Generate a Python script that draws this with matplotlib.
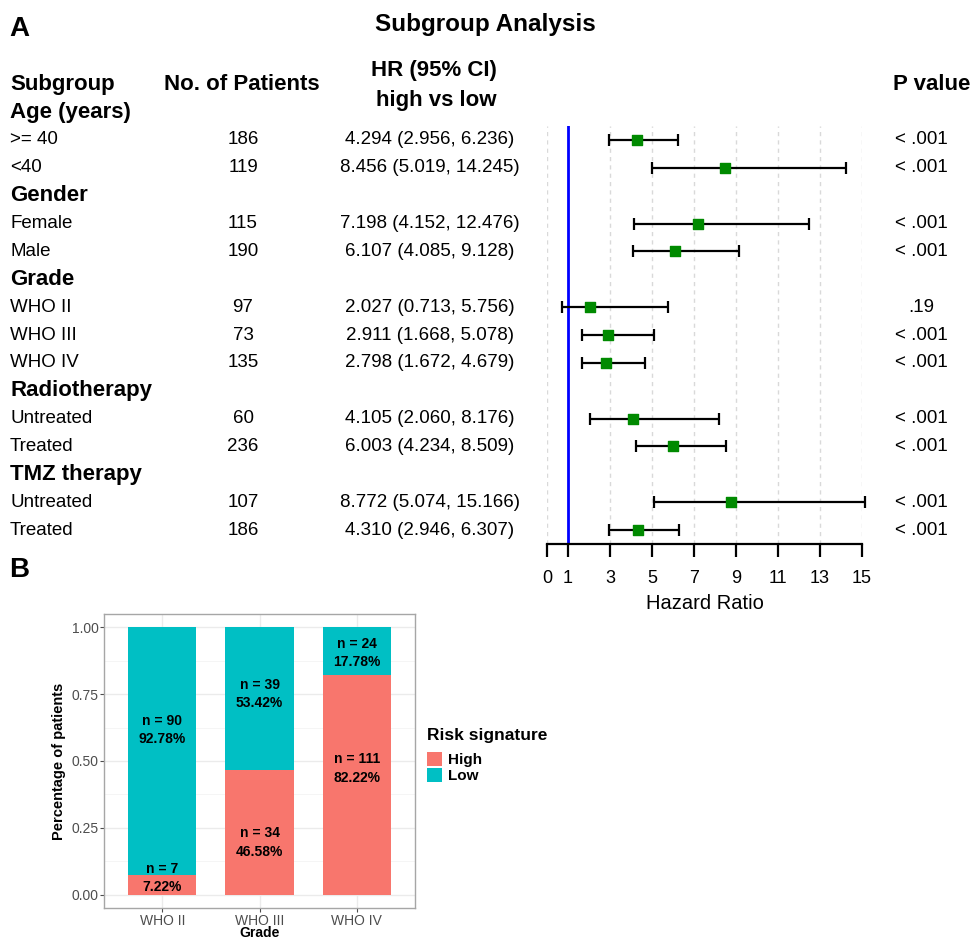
import matplotlib
matplotlib.use('Agg')
import matplotlib.pyplot as plt
import matplotlib.transforms as mtransforms
from matplotlib.patches import Patch

plt.rcParams['font.family'] = ['Liberation Sans', 'DejaVu Sans']

# subgroup hazard ratios (high vs low risk)
GROUPS = ['Age (years)', 'Gender', 'Grade', 'Radiotherapy', 'TMZ therapy']
SUBGROUPS = [['>= 40', '<40'],
             ['Female', 'Male'],
             ['WHO II', 'WHO III', 'WHO IV'],
             ['Untreated', 'Treated'],
             ['Untreated', 'Treated']]
PATIENTS = [186, 119, 115, 190, 97, 73, 135, 60, 236, 107, 186]
HR = [4.294, 8.456, 7.198, 6.107, 2.027, 2.911, 2.798, 4.105, 6.003, 8.772, 4.310]
CI_LOW = [2.956, 5.019, 4.152, 4.085, 0.713, 1.668, 1.672, 2.060, 4.234, 5.074, 2.946]
CI_HIGH = [6.236, 14.245, 12.476, 9.128, 5.756, 5.078, 4.679, 8.176, 8.509, 15.166, 6.307]
P_VALUES = ['< .001', '< .001', '< .001', '< .001', '.19', '< .001', '< .001',
            '< .001', '< .001', '< .001', '< .001']
HR_TICKS = [0, 1, 3, 5, 7, 9, 11, 13, 15]

# risk signature by WHO grade
GRADES = ['WHO II', 'WHO III', 'WHO IV']
N_HIGH = [7, 34, 111]
N_LOW = [90, 39, 24]

HIGH_COL = '#F8766D'
LOW_COL = '#00BFC4'

W, H = 971, 941
fig = plt.figure(figsize=(W / 100, H / 100), dpi=100)

def fx(px):
    return px / W

def fy(px):
    return 1 - px / H

# ---------------- panel A: forest plot ----------------
ax = fig.add_axes([fx(547), fy(544), fx(862) - fx(547), (544 - 126) / H])
ax.set_xlim(0, 15)
ax.set_ylim(15.5, 0.5)

# assign each line of the table a row index
header_rows, sub_rows, sub_labels = [], [], []
r = 0
for g, subs in zip(GROUPS, SUBGROUPS):
    header_rows.append(r)
    r += 1
    for s in subs:
        sub_rows.append(r)
        sub_labels.append(s)
        r += 1

for x in HR_TICKS:
    if x != 1:
        ax.axvline(x, color='#d9d9d9', lw=1, ls=(0, (3, 3)), zorder=0)
ax.axvline(1, color='#0000ff', lw=2, zorder=1)

err_lo = [h - l for h, l in zip(HR, CI_LOW)]
err_hi = [u - h for h, u in zip(HR, CI_HIGH)]
eb = ax.errorbar(HR, sub_rows, xerr=[err_lo, err_hi], fmt='none', ecolor='black',
                 elinewidth=1.6, capsize=4, capthick=1.6, zorder=2)
for art in eb.lines[1] + eb.lines[2]:
    art.set_clip_on(False)
ax.scatter(HR, sub_rows, marker='s', s=60, color='#008a00', zorder=3, clip_on=False)

for sp in ['top', 'right', 'left']:
    ax.spines[sp].set_visible(False)
ax.spines['bottom'].set_linewidth(1.6)
ax.set_yticks([])
ax.set_xticks(HR_TICKS)
ax.tick_params(axis='x', length=9, width=1.6, labelsize=13, pad=10)
ax.set_xlabel('Hazard Ratio', fontsize=14.5, labelpad=5)

tr = mtransforms.blended_transform_factory(fig.transFigure, ax.transData)
row_fs = 13.5
head_fs = 16
for g, hr_ in zip(GROUPS, header_rows):
    ax.text(fx(10), hr_, g, transform=tr, fontsize=head_fs, fontweight='bold',
            ha='left', va='center', clip_on=False)
for i, rr in enumerate(sub_rows):
    ax.text(fx(10), rr, sub_labels[i], transform=tr, fontsize=row_fs,
            ha='left', va='center', clip_on=False)
    ax.text(fx(243), rr, str(PATIENTS[i]), transform=tr, fontsize=row_fs,
            ha='center', va='center', clip_on=False)
    ax.text(fx(430), rr, f'{HR[i]:.3f} ({CI_LOW[i]:.3f}, {CI_HIGH[i]:.3f})',
            transform=tr, fontsize=row_fs, ha='center', va='center', clip_on=False)
    ax.text(fx(921), rr, P_VALUES[i], transform=tr, fontsize=row_fs,
            ha='center', va='center', clip_on=False)

# column headers
ax.text(fx(10), -1, 'Subgroup', transform=tr, fontsize=head_fs, fontweight='bold',
        ha='left', va='center', clip_on=False)
ax.text(fx(242), -1, 'No. of Patients', transform=tr, fontsize=head_fs,
        fontweight='bold', ha='center', va='center', clip_on=False)
ax.text(fx(434), -1.48, 'HR (95% CI)', transform=tr, fontsize=head_fs,
        fontweight='bold', ha='center', va='center', clip_on=False)
ax.text(fx(436), -0.42, 'high vs low', transform=tr, fontsize=head_fs,
        fontweight='bold', ha='center', va='center', clip_on=False)
ax.text(fx(893), -1, 'P value', transform=tr, fontsize=head_fs, fontweight='bold',
        ha='left', va='center', clip_on=False)

fig.text(fx(485), fy(25), 'Subgroup Analysis', fontsize=17.5, fontweight='bold',
         ha='center', va='center')
fig.text(fx(9), fy(29), 'A', fontsize=20, fontweight='bold', ha='left', va='center')
fig.text(fx(9), fy(570), 'B', fontsize=20, fontweight='bold', ha='left', va='center')

# ---------------- panel B: stacked proportions ----------------
bx = fig.add_axes([fx(104), fy(908), fx(415) - fx(104), (908 - 614) / H])
totals = [h + l for h, l in zip(N_HIGH, N_LOW)]
p_high = [h / t for h, t in zip(N_HIGH, totals)]
p_low = [l / t for l, t in zip(N_LOW, totals)]
xpos = list(range(1, len(GRADES) + 1))
bx.bar(xpos, p_high, width=0.7, color=HIGH_COL, zorder=2)
bx.bar(xpos, p_low, bottom=p_high, width=0.7, color=LOW_COL, zorder=2)

bx.set_xlim(0.4, 3.6)
bx.set_ylim(-0.05, 1.05)
bx.set_xticks(xpos)
bx.set_xticklabels(GRADES)
bx.set_yticks([0, 0.25, 0.5, 0.75, 1.0])
bx.set_yticklabels(['0.00', '0.25', '0.50', '0.75', '1.00'])
bx.set_yticks([0.125, 0.375, 0.625, 0.875], minor=True)
bx.grid(which='major', color='#ebebeb', lw=1, zorder=0)
bx.grid(which='minor', axis='y', color='#f4f4f4', lw=0.6, zorder=0)
bx.tick_params(which='minor', length=0)
bx.tick_params(which='major', labelsize=10, colors='#4d4d4d', length=3, width=0.8,
               labelcolor='#4d4d4d', pad=1)
for sp in bx.spines.values():
    sp.set_color('#a6a6a6')
    sp.set_linewidth(1)
bx.set_ylabel('Percentage of patients', fontsize=10.5, fontweight='bold', labelpad=4)
bx.set_xlabel('Grade', fontsize=10, fontweight='bold', labelpad=-1)

# label anchors (centre of each two-line label)
high_label_y = [0.062, 0.195, 0.472]
low_label_y = [0.615, 0.75, 0.904]
for i, x in enumerate(xpos):
    for n, p, yc in [(N_HIGH[i], p_high[i], high_label_y[i]),
                     (N_LOW[i], p_low[i], low_label_y[i])]:
        bx.text(x, yc + 0.034, f'n = {n}', fontsize=10, fontweight='bold',
                ha='center', va='center', zorder=3)
        bx.text(x, yc - 0.034, f'{p * 100:.2f}%', fontsize=10, fontweight='bold',
                ha='center', va='center', zorder=3)

handles = [Patch(facecolor=HIGH_COL, label='High'), Patch(facecolor=LOW_COL, label='Low')]
leg = fig.legend(handles=handles, title='Risk signature', loc='upper left',
                 bbox_to_anchor=(fx(419), fy(720)), frameon=False, borderpad=0,
                 prop={'size': 11, 'weight': 'bold'}, handlelength=1.0,
                 handleheight=1.0, handletextpad=0.4, labelspacing=0.05,
                 alignment='left', title_fontproperties={'size': 12.5, 'weight': 'bold'})
leg._legend_box.sep = 7

fig.savefig('out.png', dpi=100)
